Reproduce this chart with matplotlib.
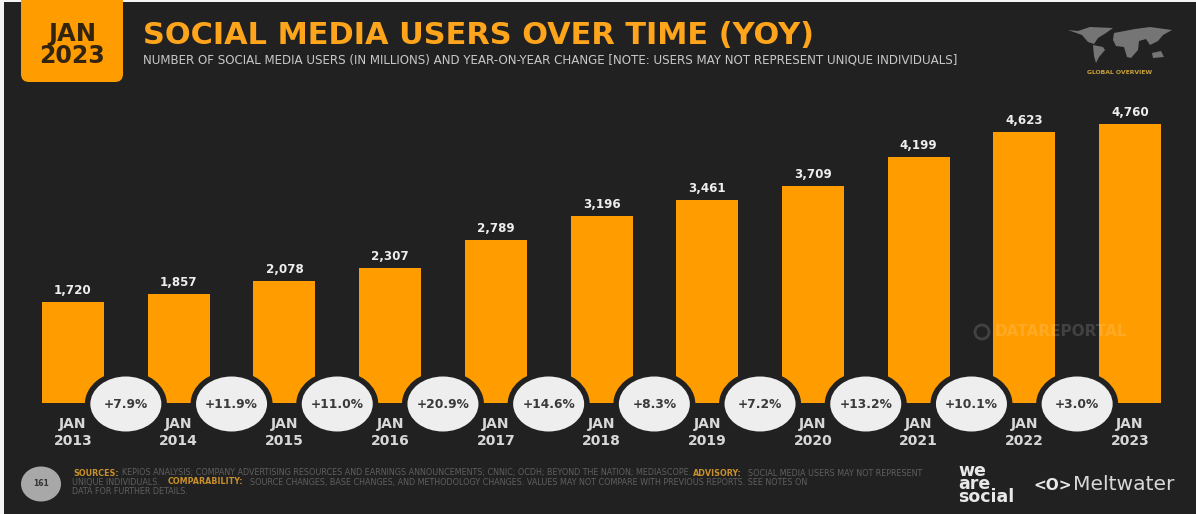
import matplotlib
matplotlib.use("Agg")
import matplotlib.pyplot as plt
from matplotlib import patches
import numpy as np

WIDTH = 1196
HEIGHT = 514

years = ['2013', '2014', '2015', '2016', '2017', '2018', '2019', '2020', '2021', '2022', '2023']
users = [1720, 1857, 2078, 2307, 2789, 3196, 3461, 3709, 4199, 4623, 4760]
changes = ['+7.9%', '+11.9%', '+11.0%', '+20.9%', '+14.6%', '+8.3%', '+7.2%', '+13.2%', '+10.1%', '+3.0%']

ORANGE = '#ff9c00'
DARK = '#212121'
FONT = 'DejaVu Sans'
FOOT_GREY = '#5f5f5f'
FOOT_GOLD = '#c9912a'

fig = plt.figure(figsize=(WIDTH / 100, HEIGHT / 100), dpi=100, facecolor='#f4f4f4')

# overlay in pixel coords for the header/footer furniture
bg = fig.add_axes([0, 0, 1, 1])
bg.set_xlim(0, WIDTH)
bg.set_ylim(HEIGHT, 0)
bg.axis('off')
bg.add_patch(patches.Rectangle((4, 2), WIDTH, HEIGHT, facecolor=DARK, edgecolor='none'))

# date badge
bg.add_patch(patches.FancyBboxPatch((21, -10), 102, 92, boxstyle='round,pad=0,rounding_size=8',
                                    facecolor=ORANGE, edgecolor='none'))
bg.text(72, 34, 'JAN', ha='center', va='center', fontsize=17.5, fontweight='bold', family=FONT, color='#33240f')
bg.text(72, 56, '2023', ha='center', va='center', fontsize=17, fontweight='bold', family=FONT, color='#33240f')

bg.text(143, 35, 'SOCIAL MEDIA USERS OVER TIME (YOY)', ha='left', va='center', fontsize=21.9,
        fontweight='bold', family=FONT, color='#ffa51c')
bg.text(143, 60, 'NUMBER OF SOCIAL MEDIA USERS (IN MILLIONS) AND YEAR-ON-YEAR CHANGE [NOTE: USERS MAY NOT REPRESENT UNIQUE INDIVIDUALS]',
        ha='left', va='center', fontsize=8.6, family=FONT, color='#c8c8c8')

# rough world map
land = [
    [(1068, 30), (1078, 31), (1090, 27), (1113, 28), (1106, 33), (1098, 38), (1094, 44), (1088, 42), (1082, 35)],
    [(1093, 45), (1103, 47), (1105, 50), (1099, 57), (1096, 63), (1094, 56)],
    [(1114, 33), (1135, 29), (1150, 27), (1172, 30), (1163, 35), (1158, 41), (1150, 45), (1146, 39), (1139, 41),
     (1138, 50), (1131, 58), (1127, 57), (1124, 47), (1116, 46), (1113, 40)],
    [(1152, 53), (1161, 51), (1164, 57), (1153, 58)],
]
for poly in land:
    bg.add_patch(patches.Polygon(poly, closed=True, facecolor='#757575', edgecolor='none'))
bg.text(1120, 72, 'GLOBAL OVERVIEW', ha='center', va='center', fontsize=4.4, fontweight='bold',
        family=FONT, color='#c9a23a')

# bars: index 0 sits at px 73, index 10 at px 1130
bar_ax = fig.add_axes([42 / WIDTH, 1 - 403 / HEIGHT, (1161 - 42) / WIDTH, (403 - 124) / HEIGHT])
bar_ax.patch.set_alpha(0)
x = np.arange(len(years))
bar_ax.bar(x, users, width=62 / 105.7, color=ORANGE, linewidth=0)
bar_ax.set_xlim(-31 / 105.7, 10 + 31 / 105.7)
bar_ax.set_ylim(0, 4760)
bar_ax.axis('off')
for i, value in enumerate(users):
    bar_ax.annotate(f'{value:,}', (i, value), xytext=(0, 5), textcoords='offset pixels', ha='center', va='bottom',
                    fontsize=8.6, fontweight='bold', family=FONT, color='#eeeeee')
    bar_ax.annotate(f'JAN\n{years[i]}', (i, 0), xytext=(0, -14), textcoords='offset pixels', ha='center', va='top',
                    fontsize=10, fontweight='bold', family=FONT, color='#d8d8d8', linespacing=1.3,
                    annotation_clip=False)

# change bubbles between bars
top = fig.add_axes([0, 0, 1, 1])
top.set_xlim(0, WIDTH)
top.set_ylim(HEIGHT, 0)
top.axis('off')
top.patch.set_alpha(0)
for i, label in enumerate(changes):
    cx = 73 + 105.7 * (i + 0.5)
    top.add_patch(patches.Ellipse((cx, 404), 82, 66, facecolor=DARK, edgecolor='none'))
    top.add_patch(patches.Ellipse((cx, 404), 71, 55, facecolor='#eeeeee', edgecolor='none'))
    top.text(cx, 404, label, ha='center', va='center', fontsize=8.8, fontweight='bold', family=FONT, color='#3a3a3a')

# faint watermark across the last bars
top.add_patch(patches.Circle((982, 332), 7, facecolor='none', edgecolor='white', linewidth=2, alpha=0.15))
top.text(995, 332, 'DATAREPORTAL', ha='left', va='center', fontsize=11, fontweight='bold', family=FONT,
         color='white', alpha=0.15)

# footer
top.add_patch(patches.Ellipse((41, 484), 40, 35, facecolor='#a8a8a8', edgecolor='none'))
top.text(41, 484, '161', ha='center', va='center', fontsize=5.5, fontweight='bold', family=FONT, color='#333333')
top.text(73, 473, 'SOURCES:', ha='left', va='center', fontsize=5.8, fontweight='bold', family=FONT, color=FOOT_GOLD)
top.text(122, 473, 'KEPIOS ANALYSIS; COMPANY ADVERTISING RESOURCES AND EARNINGS ANNOUNCEMENTS; CNNIC; OCDH; BEYOND THE NATION; MEDIASCOPE.',
         ha='left', va='center', fontsize=5.8, family=FONT, color=FOOT_GREY)
top.text(693, 473, 'ADVISORY:', ha='left', va='center', fontsize=5.8, fontweight='bold', family=FONT, color=FOOT_GOLD)
top.text(748, 473, 'SOCIAL MEDIA USERS MAY NOT REPRESENT', ha='left', va='center', fontsize=5.8, family=FONT,
         color=FOOT_GREY)
top.text(72, 482, 'UNIQUE INDIVIDUALS.', ha='left', va='center', fontsize=5.8, family=FONT, color=FOOT_GREY)
top.text(168, 482, 'COMPARABILITY:', ha='left', va='center', fontsize=5.8, fontweight='bold', family=FONT, color=FOOT_GOLD)
top.text(250, 482, 'SOURCE CHANGES, BASE CHANGES, AND METHODOLOGY CHANGES. VALUES MAY NOT COMPARE WITH PREVIOUS REPORTS. SEE NOTES ON',
         ha='left', va='center', fontsize=5.8, family=FONT, color=FOOT_GREY)
top.text(72, 491, 'DATA FOR FURTHER DETAILS.', ha='left', va='center', fontsize=5.8, family=FONT, color=FOOT_GREY)

top.text(958, 484, 'we\nare\nsocial', ha='left', va='center', fontsize=12.5, fontweight='bold', family=FONT,
         color='#e8e8e8', linespacing=0.62)
top.text(1033, 485, '<O>', ha='left', va='center', fontsize=11, fontweight='bold', family=FONT, color='#e8e8e8')
top.text(1073, 485, 'Meltwater', ha='left', va='center', fontsize=14.6, family=FONT, color='#d8d8d8')

fig.savefig('out.png', dpi=100, facecolor=fig.get_facecolor())
